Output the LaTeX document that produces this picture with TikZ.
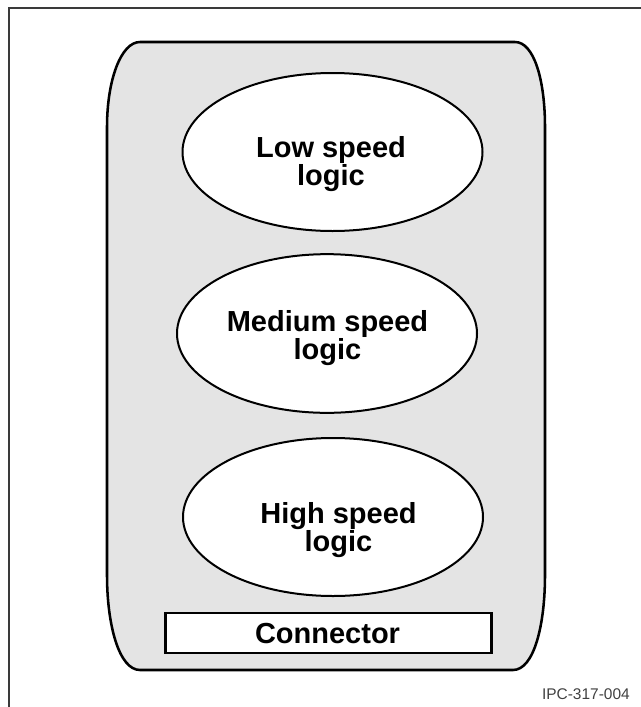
\documentclass[tikz,border=0pt]{standalone}
\usepackage{fontspec}
\setmainfont{Liberation Sans}
\usetikzlibrary{shapes.geometric}
\definecolor{panelgray}{HTML}{E4E4E4}
\definecolor{framegray}{HTML}{3A3A3A}
\definecolor{idgray}{HTML}{404040}
\begin{document}
\begin{tikzpicture}[x={(0.75pt,0)},y={(0,-0.75pt)},
  logicell/.style={draw=black,fill=white,line width=1.5pt,shape=ellipse,inner sep=0pt,
     minimum width=225pt,minimum height=118.5pt},
  lbl/.style={font=\bfseries\fontsize{21.75pt}{18.5pt}\selectfont,inner sep=0pt,align=center,anchor=base},
  connbox/.style={draw=black,fill=white,line width=2.2pt,rectangle,inner sep=0pt,
     minimum width=245pt,minimum height=30pt},
  idlbl/.style={font=\fontsize{11.6pt}{13pt}\selectfont,text=idgray,inner sep=0pt,anchor=base east}]
\useasboundingbox (0,0) rectangle (641,707);
% frame
\coordinate (fbl) at (9,707);
\coordinate (ftl) at (9,8);
\coordinate (ftr) at (641,8);
\draw[framegray,line width=1.1pt] (fbl) -- (ftl) -- (ftr);
% outer housing
\draw[fill=panelgray,line width=1.9pt]
  (140,42) -- (515,42)
  .. controls (534,42) and (545,80) .. (545,127)
  -- (545,575)
  .. controls (545,625) and (534,670) .. (513,670)
  -- (140,670)
  .. controls (119,670) and (107,625) .. (107,575)
  -- (107,127)
  .. controls (107,80) and (121,42) .. (140,42) -- cycle;
% logic blocks
\node[logicell] (low) at (332.5,152) {};
\node[logicell,minimum height=119pt] (med) at (327,333.5) {};
\node[logicell] (high) at (333,517) {};
\node[lbl] (lowt) at (331,185.8) {Low speed\\[-0.4pt]logic};
\node[lbl] (medt) at (327.5,359.3) {Medium speed\\[-0.4pt]logic};
\node[lbl] (hight) at (338.5,551.3) {High speed\\[-0.4pt]logic};
% connector
\node[connbox] (conn) at (328.5,633) {};
\node[lbl] (connt) at (327.5,643) {Connector};
% id
\node[idlbl] (id) at (630,699) {IPC-317-004};
\end{tikzpicture}
\end{document}
